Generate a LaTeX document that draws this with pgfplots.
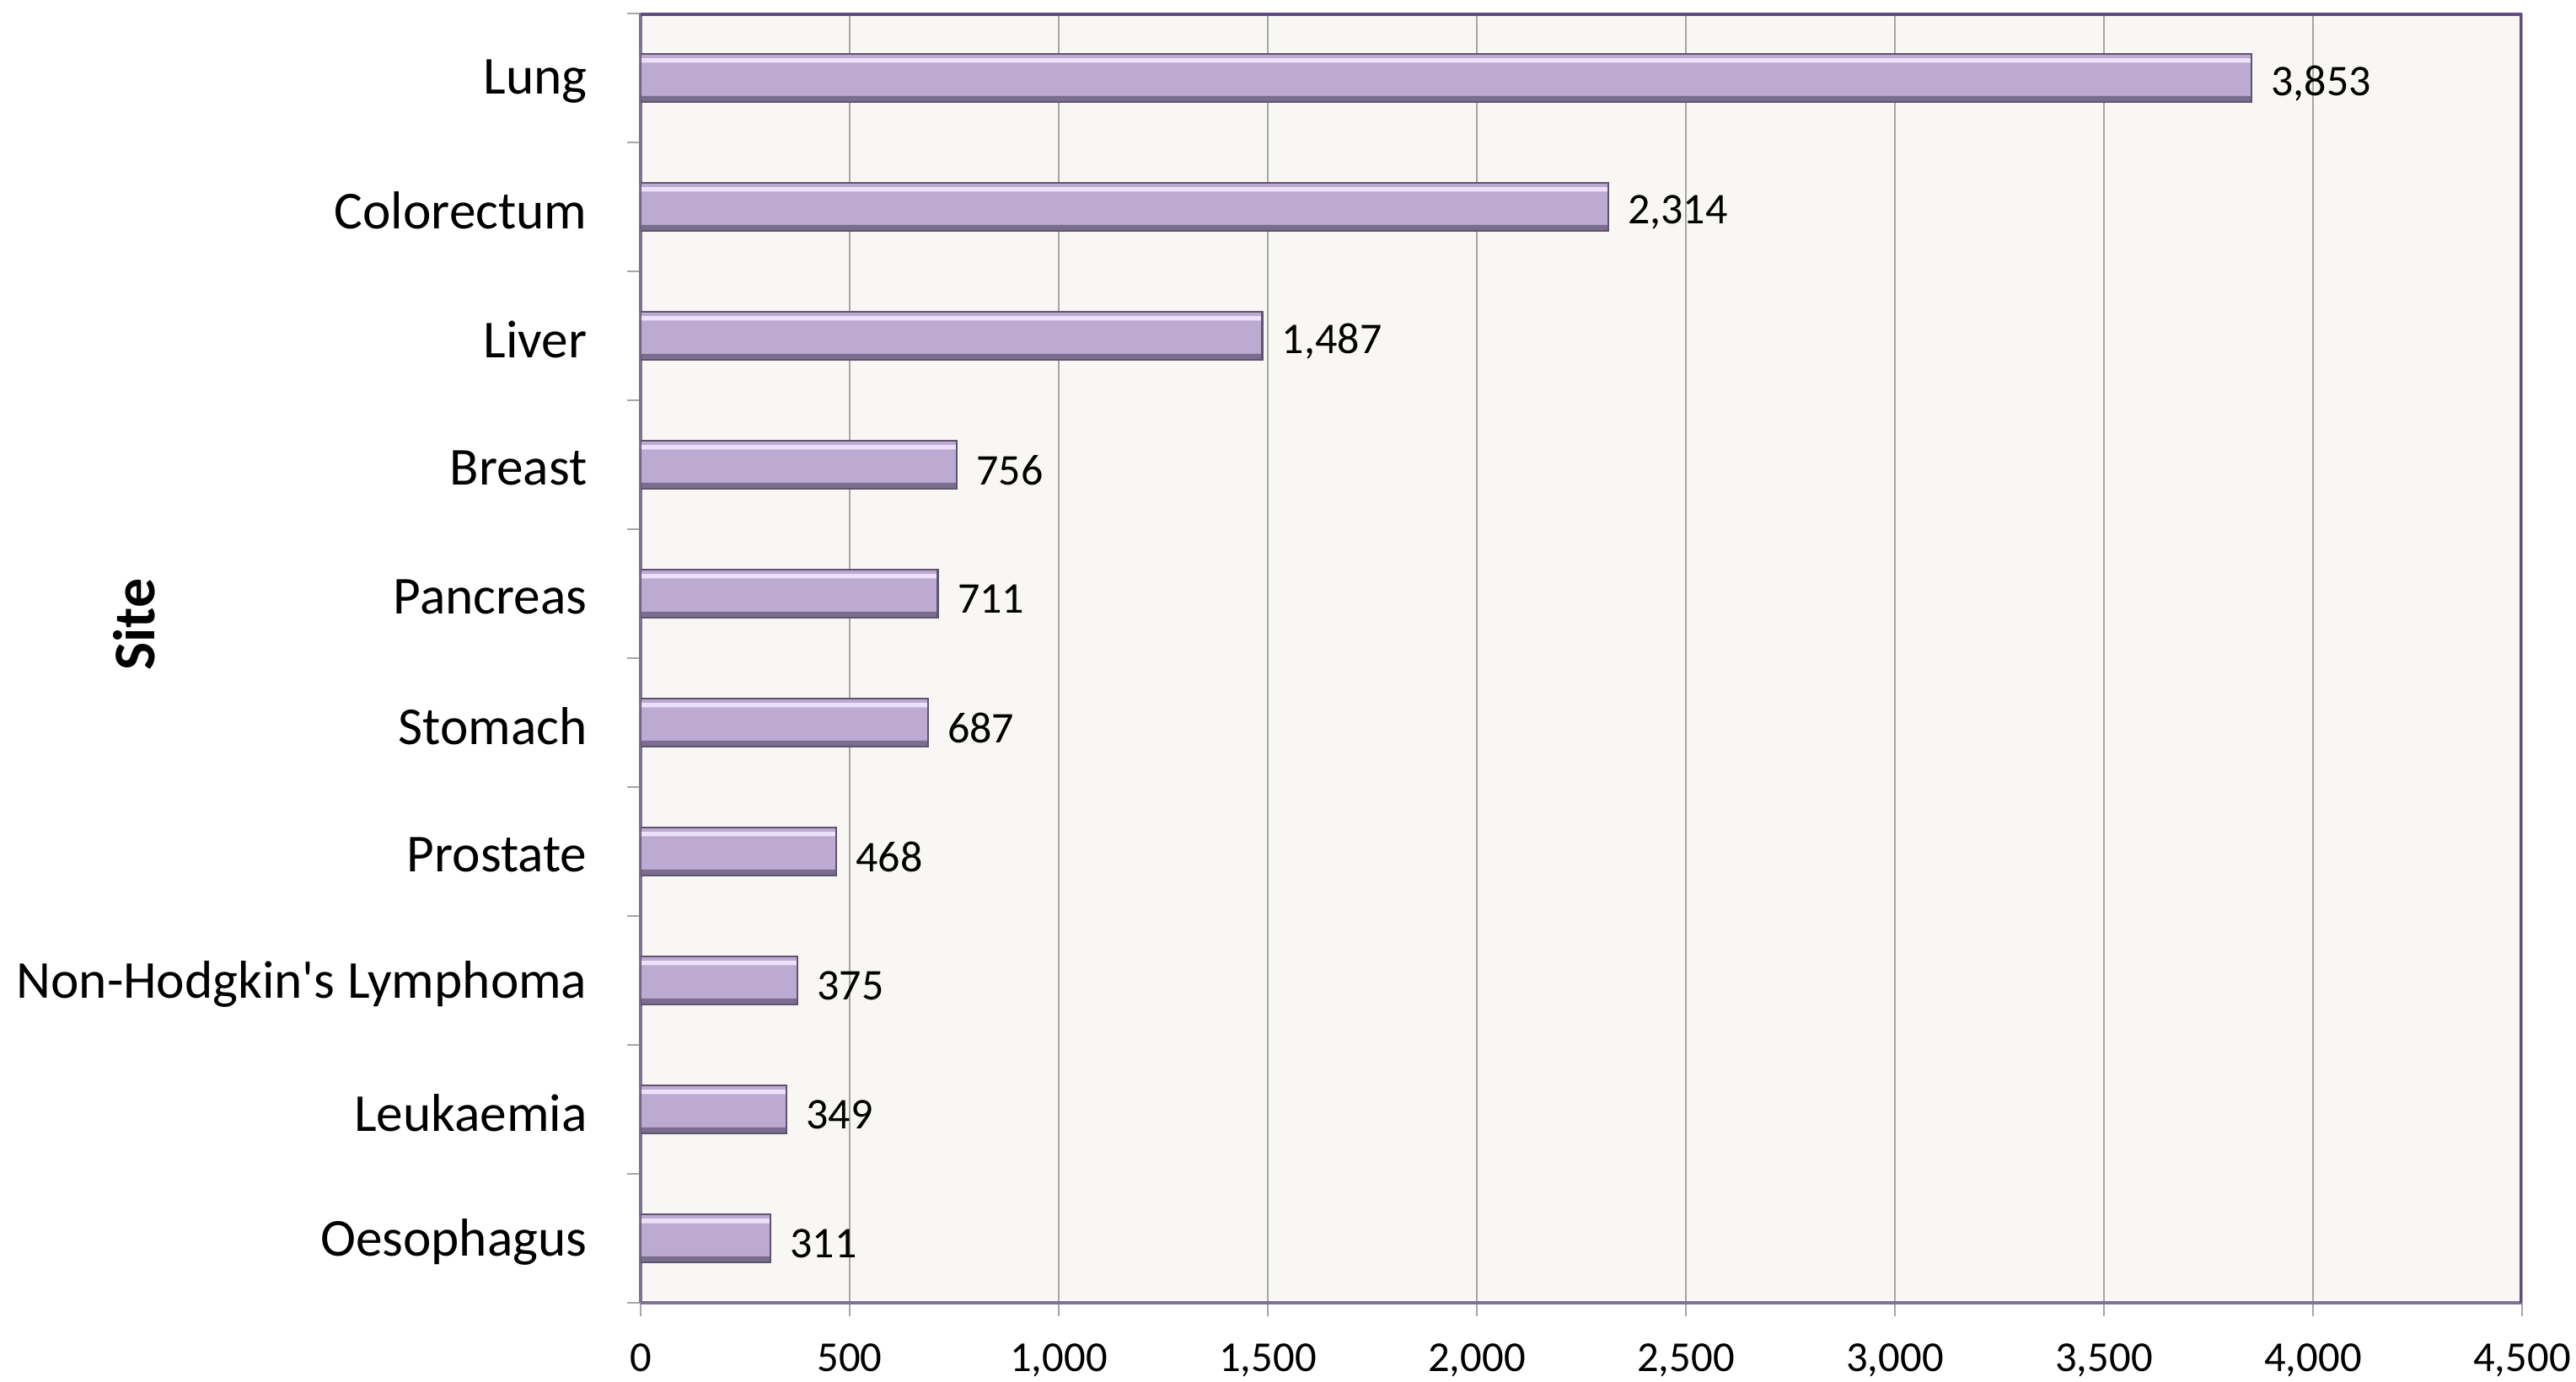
\documentclass[border=0pt]{standalone}
\usepackage{pgfplots}
\pgfplotsset{compat=1.18}
\usepackage{fontspec}
\setmainfont{Carlito}
\definecolor{barbase}{HTML}{BDAAD2}
\definecolor{barlight}{HTML}{EDE0FA}
\definecolor{bardark}{HTML}{7A6D8E}
\definecolor{baredge}{HTML}{5F5470}
\definecolor{bgc}{HTML}{F8F7F3}
\definecolor{gridc}{HTML}{A6A6A6}
\definecolor{frameleft}{HTML}{7E7396}
\definecolor{frametop}{HTML}{5F4B80}
\pgfplotstableread{
x y
311 0
349 1
375 2
468 3
687 4
711 5
756 6
1487 7
2314 8
3853 9
}\sites
\begin{document}
\begin{tikzpicture}
\path[use as bounding box] (-114pt,-14.1pt) rectangle ++(458.4pt,246pt);
\begin{axis}[
  at={(0,0)}, anchor=south west,
  scale only axis, width=334.8pt, height=229.5pt,
  xmin=0, xmax=4500, ymin=-0.5, ymax=9.5,
  xtick={0,500,...,4500},
  /pgf/number format/assume math mode=true,
  /pgf/number format/1000 sep={,},
  xticklabel style={font=\fontsize{7.6}{9}\selectfont, yshift=-1.3pt},
  ytick={-0.5,0.5,...,9.5},
  yticklabels={},
  extra y ticks={0,1,2,3,4,5,6,7,8,9},
  extra y tick labels={Oesophagus,Leukaemia,Non-Hodgkin\textquotesingle s Lymphoma,Prostate,Stomach,Pancreas,Breast,Liver,Colorectum,Lung},
  extra y tick style={major tick length=0pt, yticklabel style={font=\fontsize{9.5}{11}\selectfont, xshift=-6pt, yshift=-0.6pt}},
  tick align=outside,
  major tick length=2.4pt,
  tick style={gridc, line width=0.4pt},
  xmajorgrids=true,
  major grid style={gridc, line width=0.4pt},
  axis lines*=left,
  axis line style={frameleft, line width=0.6pt},
  axis background/.style={fill=bgc},
  ylabel={\textbf{Site}},
  ylabel style={at={(axis description cs:-0.269,0.526)}, anchor=center, font=\fontsize{10.5}{12}\selectfont},
  xbar,
]
% main bar body
\addplot[xbar, bar width=0.37, bar shift=0, fill=barbase, draw=none] table[x=x,y=y] {\sites};
% top highlight strip
\addplot[xbar, bar width=0.035, bar shift=0.135, fill=barlight, draw=none] table[x=x,y=y] {\sites};
% bottom dark strip
\addplot[xbar, bar width=0.045, bar shift=-0.1625, fill=bardark, draw=none] table[x=x,y=y] {\sites};
% outline and value labels
\addplot[xbar, bar width=0.37, bar shift=0, fill=none, draw=baredge, line width=0.35pt,
  point meta=x, nodes near coords,
  every node near coord/.append style={font=\fontsize{7.8}{9}\selectfont, text=black, anchor=west, yshift=-1pt}] table[x=x,y=y] {\sites};
\draw[frametop, line width=0.8pt] (rel axis cs:0,1) -- (rel axis cs:1,1) -- (rel axis cs:1,0);
\end{axis}
\end{tikzpicture}
\end{document}
